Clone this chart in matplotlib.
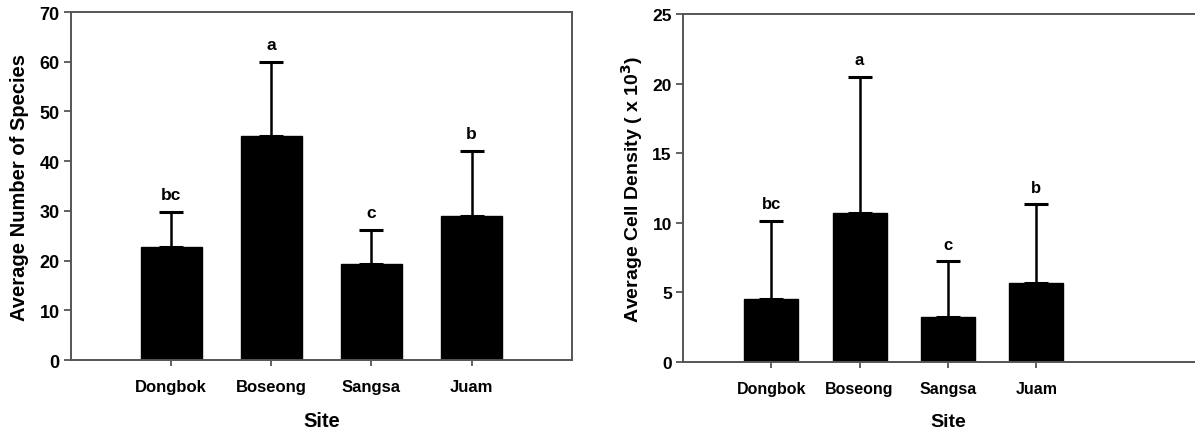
import matplotlib.pyplot as plt

# %% data
sites = ["Dongbok", "Boseong", "Sangsa", "Juam"]
letters = ["bc", "a", "c", "b"]
species_mean = [22.8, 45.1, 19.3, 29.0]
species_sd = [7.0, 14.9, 6.9, 13.0]
density_mean = [4.53, 10.74, 3.24, 5.68]
density_sd = [5.63, 9.76, 4.0, 5.66]

# %% style
plt.rcParams["font.family"] = ["Liberation Sans", "DejaVu Sans"]
plt.rcParams["font.weight"] = "bold"
spine_col = "#555555"

fig = plt.figure(figsize=(11.95, 4.31), dpi=100)
ax1 = fig.add_axes([0.0594, 0.1624, 0.4190, 0.8074])
ax2 = fig.add_axes([0.5715, 0.1578, 0.4435, 0.8067])


def bar_panel(ax, mean, sd, ylim, yticks, ylabel, xlim, fs_tick, fs_ytick, fs_label, ylpad, xlpad):
    x = range(len(sites))
    ax.bar(x, mean, width=0.61, color="black", edgecolor="black", zorder=2)
    ax.errorbar(x, mean, yerr=[[0] * len(sd), sd], fmt="none", ecolor="black",
                elinewidth=1.8, capsize=8.5, capthick=2.2, zorder=3)
    for xi, m, s, lab in zip(x, mean, sd, letters):
        ax.annotate(lab, (xi, m + s), xytext=(0, 7), textcoords="offset points",
                    ha="center", va="bottom", fontsize=fs_tick + 0.5, fontweight="bold")
    ax.set_xlim(*xlim)
    ax.set_ylim(*ylim)
    ax.set_yticks(yticks)
    ax.set_xticks(list(x))
    ax.set_xticklabels(sites, fontsize=fs_tick, fontweight="bold")
    ax.tick_params(axis="y", labelsize=fs_ytick, length=5, width=1.3, color=spine_col, pad=3)
    ax.tick_params(axis="x", length=4, width=1.3, color=spine_col, pad=10)
    for t in ax.get_yticklabels():
        t.set_fontweight("bold")
    for sp in ax.spines.values():
        sp.set_color(spine_col)
        sp.set_linewidth(1.4)
    ax.set_ylabel(ylabel, fontsize=fs_label, fontweight="bold", labelpad=ylpad)
    ax.set_xlabel("Site", fontsize=fs_label, fontweight="bold", labelpad=xlpad)


bar_panel(ax1, species_mean, species_sd, (0, 70), range(0, 71, 10),
          "Average Number of Species", (-1, 4), 12, 13, 14.5, 8, 12)
bar_panel(ax2, density_mean, density_sd, (0, 25), range(0, 26, 5),
          r"Average Cell Density ( x 10$^\mathbf{3}$)", (-1, 5), 11.5, 12.5, 14, 5, 12)

fig.savefig("out.png", dpi=100)
plt.close()
